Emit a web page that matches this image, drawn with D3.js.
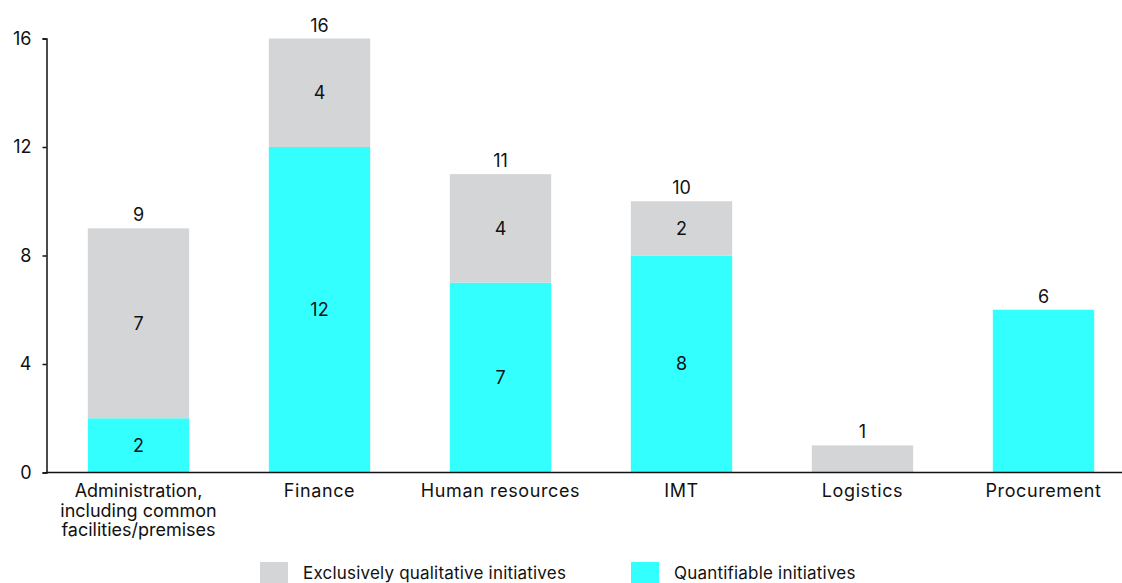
<!DOCTYPE html>
<html>
<head>
<meta charset="utf-8">
<script src="https://cdn.jsdelivr.net/npm/d3@7"></script>
<style>
  html, body { margin: 0; padding: 0; background: #fff; }
  svg { display: block; font-family: Inter, "Liberation Sans", Arial, sans-serif; }
</style>
</head>
<body>
<svg id="chart" width="1122" height="583"></svg>
<script>
// Initiatives by area
const categories = [
  ["Administration,", "including common", "facilities/premises"],
  ["Finance"],
  ["Human resources"],
  ["IMT"],
  ["Logistics"],
  ["Procurement"]
];
const quantifiable = [2, 12, 7, 8, 0, 6];
const qualitative = [7, 4, 4, 2, 1, 0];
const yTicks = [0, 4, 8, 12, 16];
const seriesNames = ["Exclusively qualitative initiatives", "Quantifiable initiatives"];

const colQual = "#d4d5d7";
const colQuant = "#33ffff";
const ink = "#111";
const fs = 18;

const svg = d3.select("#chart");
const W = 1122;

const x = d3.scaleBand()
  .domain(d3.range(categories.length))
  .range([48, 1134])
  .paddingInner(0.44)
  .paddingOuter(0.22);

const y = d3.scaleLinear().domain([0, 16]).range([472.5, 38.5]);

// stacked bars
const rows = categories.map((c, i) => ({ i, q: quantifiable[i], l: qualitative[i] }));

const g = svg.append("g");
g.selectAll("rect.quant").data(rows.filter(d => d.q > 0)).join("rect")
  .attr("x", d => x(d.i)).attr("width", x.bandwidth())
  .attr("y", d => y(d.q)).attr("height", d => y(0) - y(d.q))
  .attr("fill", colQuant);
g.selectAll("rect.qual").data(rows.filter(d => d.l > 0)).join("rect")
  .attr("x", d => x(d.i)).attr("width", x.bandwidth())
  .attr("y", d => y(d.q + d.l)).attr("height", d => y(d.q) - y(d.q + d.l))
  .attr("fill", colQual);

// segment labels (only for bars with both parts)
const segs = [];
rows.forEach(d => {
  if (d.q > 0 && d.l > 0) {
    segs.push({ i: d.i, v: d.q, mid: d.q / 2 });
    segs.push({ i: d.i, v: d.l, mid: d.q + d.l / 2 });
  }
});
g.selectAll("text.seg").data(segs).join("text")
  .attr("x", d => x(d.i) + x.bandwidth() / 2)
  .attr("y", d => y(d.mid))
  .attr("dy", "0.36em")
  .attr("text-anchor", "middle")
  .attr("font-size", fs)
  .attr("fill", ink)
  .text(d => d.v);

// totals
g.selectAll("text.tot").data(rows).join("text")
  .attr("x", d => x(d.i) + x.bandwidth() / 2)
  .attr("y", d => y(d.q + d.l) - 7)
  .attr("text-anchor", "middle")
  .attr("font-size", fs)
  .attr("fill", ink)
  .text(d => d.q + d.l);

// y axis
const yAxis = d3.axisLeft(y).tickValues(yTicks).tickSize(4).tickPadding(11);
const ya = svg.append("g").attr("transform", "translate(46.5,0)").call(yAxis);
ya.select(".domain").attr("stroke", ink).attr("stroke-width", 1.5);
ya.selectAll(".tick line").attr("stroke", ink).attr("stroke-width", 1.5);
ya.selectAll(".tick text").attr("font-size", fs).attr("fill", ink)
  .attr("font-family", "Inter, Liberation Sans, Arial, sans-serif");

// x axis baseline
svg.append("line")
  .attr("x1", 46).attr("x2", W).attr("y1", y(0)).attr("y2", y(0))
  .attr("stroke", ink).attr("stroke-width", 1.5);

// category labels; wrapped labels are set a little tighter
const xl = svg.append("g").selectAll("text").data(categories).join("text")
  .attr("x", (d, i) => x(i) + x.bandwidth() / 2)
  .attr("y", 497)
  .attr("text-anchor", "middle")
  .attr("font-size", fs)
  .attr("letter-spacing", d => d.length > 1 ? 0 : 0.6)
  .attr("fill", ink);
xl.selectAll("tspan").data(d => d).join("tspan")
  .attr("x", function () { return this.parentNode.getAttribute("x"); })
  .attr("dy", (d, j) => j === 0 ? 0 : 19.5)
  .text(d => d);

// legend
const legend = svg.append("g");
const legendItems = [
  { name: seriesNames[0], color: colQual, x: 260 },
  { name: seriesNames[1], color: colQuant, x: 631 }
];
legendItems.forEach(it => {
  legend.append("rect").attr("x", it.x).attr("y", 562).attr("width", 28).attr("height", 21).attr("fill", it.color);
  legend.append("text").attr("x", it.x + 43).attr("y", 579)
    .attr("font-size", 17).attr("letter-spacing", 0.2).attr("fill", ink).text(it.name);
});
</script>
</body>
</html>
